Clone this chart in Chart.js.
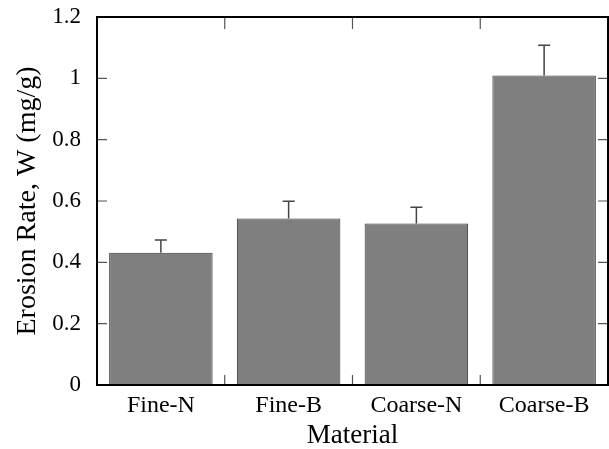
<!DOCTYPE html>
<html>
<head>
<meta charset="utf-8">
<script src="https://cdn.jsdelivr.net/npm/chart.js@4.4.1/dist/chart.umd.min.js"></script>
<style>
  html, body { margin: 0; padding: 0; background: #fff; }
  #wrap { width: 609px; height: 449px; }
</style>
</head>
<body>
<div id="wrap"><canvas id="grafico"></canvas></div>
<script>
const materials = ["Fine-N", "Fine-B", "Coarse-N", "Coarse-B"];
const erosionRate = [0.431, 0.543, 0.527, 1.009];
const errorTop = [0.473, 0.599, 0.580, 1.108];
const yTicks = [0, 0.2, 0.4, 0.6, 0.8, 1, 1.2];

const serif = "'Liberation Serif', 'Times New Roman', serif";

// frame, inward ticks and error bars
const framePlugin = {
  id: "frame",
  afterDatasetsDraw(chart) {
    const ctx = chart.ctx;
    const a = chart.chartArea;
    const x = chart.scales.x;
    const y = chart.scales.y;
    ctx.save();

    // error bars
    ctx.strokeStyle = "#444";
    ctx.lineWidth = 1.5;
    for (let i = 0; i < materials.length; i++) {
      let px = x.getPixelForValue(i);
      let top = y.getPixelForValue(errorTop[i]);
      let base = y.getPixelForValue(erosionRate[i]);
      ctx.beginPath();
      ctx.moveTo(px, base);
      ctx.lineTo(px, top);
      ctx.moveTo(px - 6, top);
      ctx.lineTo(px + 6, top);
      ctx.stroke();
    }

    // ticks pointing into the plot
    ctx.strokeStyle = "#555";
    ctx.lineWidth = 1.2;
    ctx.beginPath();
    for (const v of yTicks.slice(1, -1)) {
      let py = y.getPixelForValue(v);
      ctx.moveTo(a.left, py);
      ctx.lineTo(a.left + 10, py);
      ctx.moveTo(a.right, py);
      ctx.lineTo(a.right - 10, py);
    }
    for (let i = 0; i < materials.length - 1; i++) {
      let px = (x.getPixelForValue(i) + x.getPixelForValue(i + 1)) / 2;
      ctx.moveTo(px, a.bottom);
      ctx.lineTo(px, a.bottom - 10);
      ctx.moveTo(px, a.top);
      ctx.lineTo(px, a.top + 12);
    }
    ctx.stroke();

    // box
    ctx.strokeStyle = "#000";
    ctx.lineWidth = 2;
    ctx.strokeRect(a.left, a.top, a.right - a.left, a.bottom - a.top);
    ctx.restore();
  }
};

let chart = new Chart(document.getElementById("grafico"), {
  type: "bar",
  data: {
    labels: materials,
    datasets: [{
      data: erosionRate,
      backgroundColor: "#7f7f7f",
      borderColor: "#3a3a3a",
      borderWidth: 1,
      barPercentage: 0.81,
      categoryPercentage: 1
    }]
  },
  options: {
    responsive: true,
    maintainAspectRatio: false,
    animation: false,
    layout: { padding: { top: 17, right: 1, left: 0, bottom: 0 } },
    plugins: {
      legend: { display: false },
      tooltip: { enabled: false }
    },
    scales: {
      x: {
        grid: { display: false, drawTicks: false },
        border: { display: false },
        ticks: { color: "#000", font: { family: serif, size: 24 }, padding: 6 },
        title: {
          display: true, text: "Material", color: "#000",
          font: { family: serif, size: 27 }, padding: { top: 0, bottom: -3 }
        },
        afterFit(s) { s.height = 64; s.paddingLeft = 0; s.paddingRight = 0; }
      },
      y: {
        min: 0, max: 1.2,
        afterBuildTicks(s) { s.ticks = yTicks.map(v => ({ value: v })); },
        grid: { display: false, drawTicks: false },
        border: { display: false },
        ticks: {
          color: "#000", font: { family: serif, size: 23 }, padding: 16,
          callback: v => String(v)
        },
        title: {
          display: true, text: "Erosion Rate, W (mg/g)", color: "#000",
          font: { family: serif, size: 28 }, padding: { top: 11, bottom: 0 }
        },
        afterFit(s) { s.width = 97; s.paddingTop = 0; s.paddingBottom = 0; }
      }
    }
  },
  plugins: [framePlugin]
});
</script>
</body>
</html>
